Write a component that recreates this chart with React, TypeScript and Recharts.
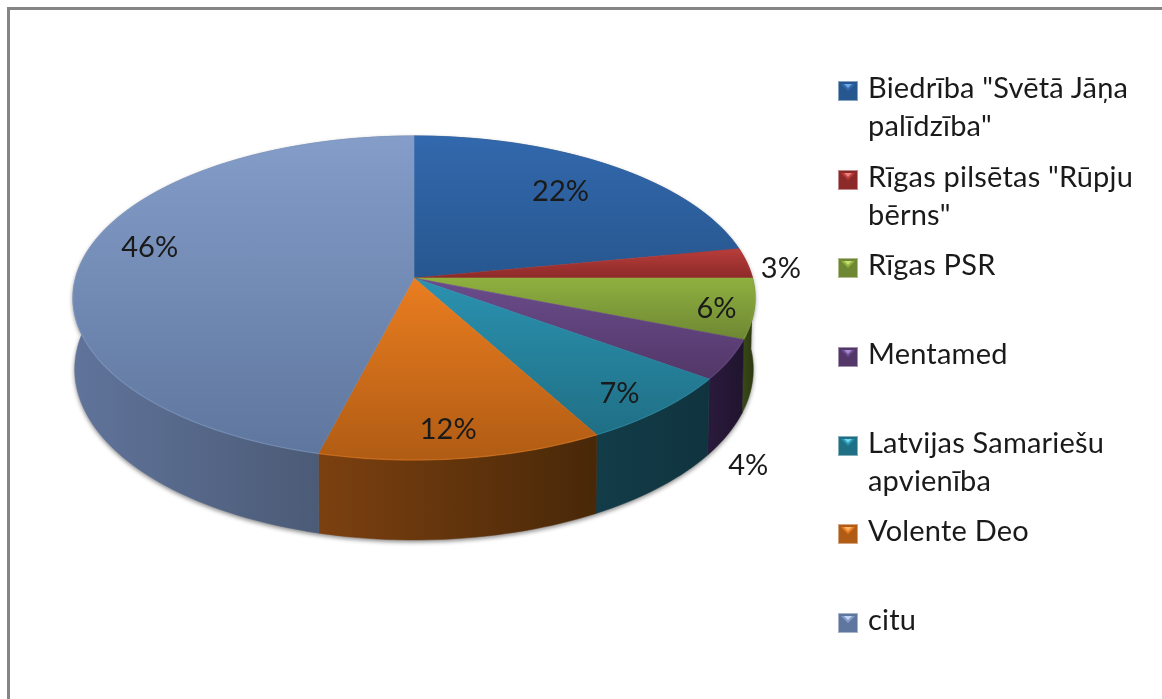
import React from "react";
import { PieChart, Pie, Legend } from "recharts";

const names = [
  'Biedrība "Svētā Jāņa palīdzība"',
  'Rīgas pilsētas "Rūpju bērns"',
  "Rīgas PSR",
  "Mentamed",
  "Latvijas Samariešu apvienība",
  "Volente Deo",
  "citu",
];
const values = [22, 3, 6, 4, 7, 12, 46];
const topLight = ["#3268ad", "#b83d3a", "#8fb03f", "#6b4c8c", "#2b92b0", "#ea7d20", "#849dc9"];
const topDark = ["#27578f", "#8c2a29", "#6e8733", "#523768", "#1f6f85", "#b05c14", "#5f779e"];
const wallLight = ["#1b3558", "#5a1a1a", "#3a4a18", "#2a1a3c", "#123c48", "#7c4010", "#60739a"];
const wallDark = ["#142840", "#3a1010", "#2a3610", "#20142e", "#10343f", "#482808", "#435269"];
const markerGlow = ["#6fa8e6", "#ee7f7c", "#c4e070", "#a98ad0", "#6fd4ee", "#fbb468", "#c4d6f4"];

const data = names.map((name, i) => ({ name, value: values[i], fill: topDark[i] }));

// perspective of the disc: far edge is compressed, near edge is stretched
const K = 0.1235;
const B_RATIO = 0.4713;
const CX = 414;
const CY = 278;
const RADIUS = 338.4;
const STEP = 1.5;

function project(p: any, deg: number, f = 1) {
  const t = (deg * Math.PI) / 180;
  const X = Math.cos(t) * f;
  const Y = Math.sin(t) * f;
  const d = 1 + K * Y;
  return {
    x: p.cx + (p.outerRadius * X) / d,
    y: p.cy - (p.outerRadius * B_RATIO * Y) / d,
    Y,
  };
}

function arcPoints(p: any) {
  const pts: any[] = [];
  const n = Math.max(2, Math.ceil(Math.abs(p.endAngle - p.startAngle) / STEP));
  for (let i = 0; i <= n; i++) {
    pts.push(project(p, p.startAngle + ((p.endAngle - p.startAngle) * i) / n));
  }
  return pts;
}

const toD = (pts: any[]) => pts.map((q, i) => `${i ? "L" : "M"}${q.x.toFixed(2)} ${q.y.toFixed(2)}`).join(" ");

function TopShape(p: any) {
  const i = names.indexOf(p.name);
  const arc = arcPoints(p);
  return (
    <g>
      <path d={`M${p.cx} ${p.cy} ${toD(arc).replace("M", "L")} Z`} fill={`url(#top${i})`} stroke={`url(#top${i})`} strokeWidth={0.6} />
      <path d={toD(arc)} fill="none" stroke={topLight[i]} strokeOpacity={0.4} strokeWidth={1.4} />
    </g>
  );
}

function WallShape(p: any) {
  const i = names.indexOf(p.name);
  const arc = arcPoints(p);
  const low = arc.map((q) => ({ x: p.cx + (q.x - p.cx) * 0.995, y: q.y + 70 - 10 * q.Y })).reverse();
  return <path d={`${toD(arc)} ${toD(low).replace("M", "L")} Z`} fill={`url(#wall${i})`} stroke={`url(#wall${i})`} strokeWidth={0.5} />;
}

// radial position and nudge of each percent label
const labelPlace = [
  [0.7, 5, -8],
  [1.1, 1, 5],
  [0.9, -3, 1],
  [1, 19, 104],
  [0.85, -1, 3],
  [0.85, -6, -1],
  [0.8, 1, -17],
];

function PercentLabel(p: any) {
  const i = names.indexOf(p.name);
  const [f, dx, dy] = labelPlace[i];
  const c = project({ cx: p.cx, cy: p.cy, outerRadius: RADIUS }, p.midAngle, f);
  return (
    <text x={c.x + dx} y={c.y + dy} textAnchor="middle" dominantBaseline="central" fontFamily="Lato" fontSize={29} fill="#1a1a1a" style={{ filter: "blur(0.5px)" }}>
      {p.value}%
    </text>
  );
}

const legendLines = [
  ['Biedrība "Svētā Jāņa', 'palīdzība"'],
  ['Rīgas pilsētas "Rūpju', 'bērns"'],
  ["Rīgas PSR"],
  ["Mentamed"],
  ["Latvijas Samariešu", "apvienība"],
  ["Volente Deo"],
  ["citu"],
];

function LegendBox() {
  return (
    <div style={{ position: "absolute", left: 838, top: 68, width: 320, fontFamily: "Lato", fontSize: 29, letterSpacing: 0.2, lineHeight: "38px", color: "#1a1a1a", filter: "blur(0.5px)" }}>
      {names.map((n, i) => (
        <div key={n} style={{ position: "relative", height: 88.67 }}>
          <svg width={20} height={20} style={{ position: "absolute", left: 0, top: 13 }}>
            <rect x={0} y={0} width={20} height={20} fill={topDark[i]} />
            <rect x={0.5} y={0.5} width={19} height={19} fill="none" stroke="#ffffff" strokeOpacity={0.45} />
            <polygon points="3,3 17,3 10,10" fill={topLight[i]} />
            <polygon points="6,3 14,3 10,7" fill={markerGlow[i]} />
          </svg>
          <div style={{ position: "absolute", left: 30, top: 0, whiteSpace: "nowrap" }}>
            {legendLines[i].map((l) => (
              <div key={l}>{l}</div>
            ))}
          </div>
        </div>
      ))}
    </div>
  );
}

export default function App() {
  return (
    <div style={{ position: "absolute", left: 0, top: 0, width: 1162, height: 699, background: "#fff", overflow: "hidden" }}>
      <style>{`.wall-pie{filter:drop-shadow(0 2px 2px rgba(0,0,0,.45));}`}</style>
      <div style={{ position: "absolute", left: 7, top: 7, width: 1160, height: 700, borderLeft: "3px solid #858585", borderTop: "3px solid #858585" }} />
      <div style={{ position: "absolute", left: 0, top: 0 }}>
        <PieChart width={1162} height={699} margin={{ top: 0, right: 0, bottom: 0, left: 0 }}>
          <defs>
            {names.map((n, i) => (
              <linearGradient key={"t" + i} id={`top${i}`} x1="0" y1="0" x2="0" y2="1">
                <stop offset="0" stopColor={topLight[i]} />
                <stop offset="1" stopColor={topDark[i]} />
              </linearGradient>
            ))}
            {names.map((n, i) => (
              <linearGradient key={"w" + i} id={`wall${i}`} x1="0" y1="0" x2="1" y2="0">
                <stop offset="0" stopColor={wallLight[i]} />
                <stop offset="1" stopColor={wallDark[i]} />
              </linearGradient>
            ))}
          </defs>
          <Pie
            data={data}
            dataKey="value"
            nameKey="name"
            cx={CX}
            cy={CY}
            outerRadius={RADIUS}
            startAngle={90}
            endAngle={-270}
            stroke="none"
            className="wall-pie"
            legendType="none"
            shape={WallShape}
            isAnimationActive={false}
          />
          <Pie
            data={data}
            dataKey="value"
            nameKey="name"
            cx={CX}
            cy={CY}
            outerRadius={RADIUS}
            startAngle={90}
            endAngle={-270}
            stroke="none"
            shape={TopShape}
            label={PercentLabel}
            labelLine={false}
            isAnimationActive={false}
          />
          <Legend content={LegendBox} wrapperStyle={{ left: 0, top: 0, width: 1162, height: 0 }} />
        </PieChart>
      </div>
    </div>
  );
}
